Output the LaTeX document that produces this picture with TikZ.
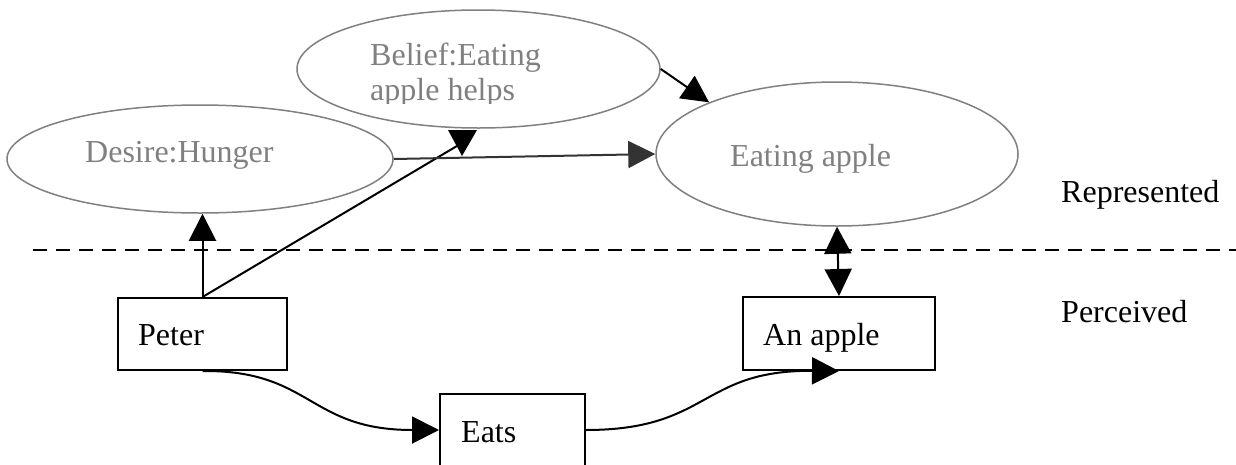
\documentclass[tikz,border=0pt]{standalone}
\usepackage{fontspec}
\setmainfont{Liberation Serif}
\usetikzlibrary{shapes.geometric,arrows.meta}

\definecolor{ovalgray}{HTML}{808080}
\definecolor{darkhead}{HTML}{333333}

\tikzset{
  oval/.style={draw=ovalgray, line width=1.5pt, ellipse, inner sep=0pt},
  thing/.style={draw=black, line width=2pt, rectangle, inner sep=0pt},
  graytext/.style={text=ovalgray, inner sep=0pt, anchor=base west},
  blacktext/.style={text=black, inner sep=0pt, anchor=base west},
  link/.style={line width=2pt, -{Triangle[length=27pt,width=27pt]}},
  bothlink/.style={line width=2pt, {Triangle[length=27pt,width=27pt]}-{Triangle[length=27pt,width=27pt]}},
}

\begin{document}
\begin{tikzpicture}[x=1pt, y=-1pt, font=\fontsize{32}{37}\selectfont]
  \clip (0,0) rectangle (1236,464);
  \fill[white] (0,0) rectangle (1236,464);

  % represented layer: mental states
  \node[oval, minimum width=386pt, minimum height=108pt] (desire) at (200,159) {};
  \node[graytext] (desiretext) at (85,162) {Desire:Hunger};

  \node[oval, minimum width=363pt, minimum height=118pt] (belief) at (478.5,69) {};
  \begin{scope}
    \clip (290,0) rectangle (670,103);
    \node[graytext] (belieftext1) at (370,65) {Belief:Eating};
    \node[graytext] (belieftext2) at (370,100) {apple helps};
  \end{scope}

  \node[oval, minimum width=362pt, minimum height=144pt] (eat) at (837,154) {};
  \node[graytext] (eattext) at (730,166) {Eating apple};

  % layer separator and layer names
  \coordinate (sepL) at (33,250);
  \coordinate (sepR) at (1236,250);
  \draw[line width=2pt, dash pattern=on 14pt off 9pt] (sepL) -- (sepR);
  \node[blacktext] (represented) at (1061,202) {Represented};
  \node[blacktext] (perceived) at (1061,322) {Perceived};

  % perceived layer: objects and action
  \node[thing, minimum width=169pt, minimum height=72pt] (peter) at (202.5,334) {};
  \node[blacktext] (petertext) at (138,345) {Peter};

  \node[thing, minimum width=145pt, minimum height=72pt] (eats) at (512.5,430) {};
  \node[blacktext] (eatstext) at (461,442) {Eats};

  \node[thing, minimum width=192pt, minimum height=73pt] (apple) at (839,333.5) {};
  \node[blacktext] (appletext) at (763,345) {An apple};

  % connectors
  \draw[link] (peter.north) -- (peter.north |- desire.south);

  \coordinate (bhead) at (462,143);
  \draw[line width=2pt] (peter.north) -- (bhead);
  \fill (448,130) -- (477,130) -- (462,156) -- cycle;

  \draw[line width=2pt, draw=darkhead, -{Triangle[length=27pt,width=27pt]}] (desire.east) -- (eat.west);
  \draw[link] (belief.east) -- (eat.158);
  \draw[bothlink] (eat.south) -- (apple.north);

  \draw[link] (peter.south) .. controls (312,370) and (308,430) .. (eats.west);
  \draw[link] (eats.east) .. controls (710,430) and (700,370) .. (apple.south);
\end{tikzpicture}
\end{document}
